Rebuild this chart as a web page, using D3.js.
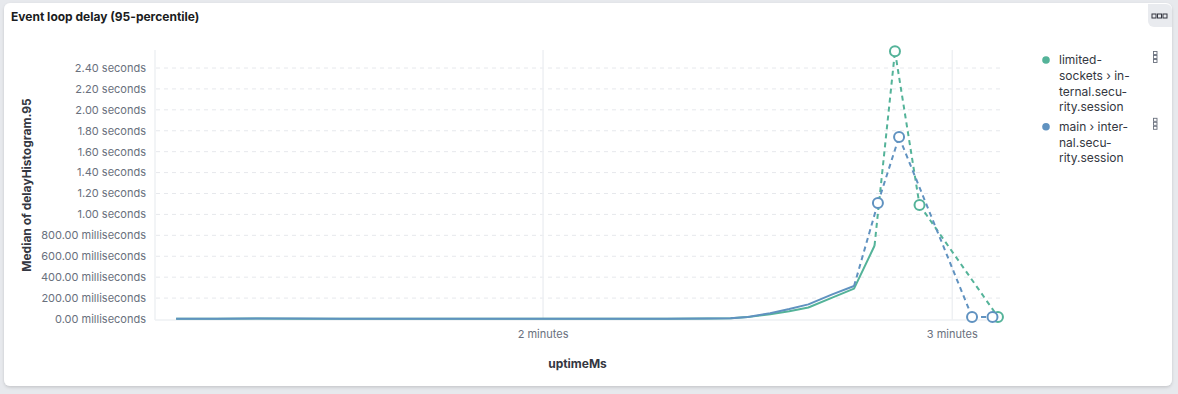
<!DOCTYPE html>
<html>
<head>
<meta charset="utf-8">
<script src="https://cdn.jsdelivr.net/npm/d3@7"></script>
<style>
  body { margin: 0; background: #e7e9ed; font-family: Inter, "Noto Sans", sans-serif; }
</style>
</head>
<body>
<div id="chart"></div>
<script>
// Datos (uptimeMs en ms, retardo en segundos; null = hueco entre cubos)
const flatTimes = [66200, 72200, 78200, 84200, 90200, 96200, 102200, 108200, 114200,
  120200, 126200, 132200, 138200, 144200];
const flatGreen = [0.003, 0.003, 0.004, 0.003, 0.003, 0.003, 0.003, 0.003, 0.003,
  0.003, 0.003, 0.003, 0.003, 0.004];
const flatBlue = [0.003, 0.003, 0.004, 0.004, 0.003, 0.003, 0.003, 0.003, 0.003,
  0.003, 0.003, 0.003, 0.003, 0.004];

const greenTailTimes = [147500, 150000, 153300, 156100, 158900, 162400, 165600, 168600, 170100, 171600, 173400, 175200, 181000, 186700];
const greenTailValues = [0.007, 0.018, 0.045, 0.075, 0.11, 0.205, 0.29, 0.70, null, 2.56, null, 1.09, null, 0.02];

const blueTailTimes = [147500, 150000, 153300, 156100, 158900, 162400, 165600, 167400, 169100, 170600, 172200, 177500, 182900, 184400, 185900];
const blueTailValues = [0.007, 0.02, 0.055, 0.095, 0.14, 0.235, 0.315, null, 1.11, null, 1.74, null, 0.02, null, 0.02];

const seriesNames = ["limited-sockets › internal.security.session", "main › internal.security.session"];
const legendLines = [
  ["limited-", "sockets › in-", "ternal.secu-", "rity.session"],
  ["main › inter-", "nal.secu-", "rity.session"]
];
const colors = ["#54B399", "#6092C0"];

const yTicks = [0, 0.2, 0.4, 0.6, 0.8, 1.0, 1.2, 1.4, 1.6, 1.8, 2.0, 2.2, 2.4];
const xTicks = [120000, 180000];
const xTickLabels = ["2 minutes", "3 minutes"];

const width = 1178, height = 394;
const plot = { left: 155, right: 1000, top: 50, bottom: 320 };

const svg = d3.select("#chart").append("svg")
  .attr("width", width).attr("height", height);

// Panel con sombra
const defs = svg.append("defs");
const f = defs.append("filter").attr("id", "sh").attr("x", "-5%").attr("y", "-5%").attr("width", "110%").attr("height", "120%");
f.append("feDropShadow").attr("dx", 0).attr("dy", 1.5).attr("stdDeviation", 1.5).attr("flood-color", "#000").attr("flood-opacity", 0.15);

svg.append("rect").attr("x", 4).attr("y", 3).attr("width", 1168).attr("height", 383)
  .attr("rx", 6).attr("fill", "#fff").attr("filter", "url(#sh)");

// Título
svg.append("text").attr("x", 11).attr("y", 21)
  .attr("font-size", 12).attr("font-weight", 700).attr("fill", "#1a1c21")
  .text("Event loop delay (95-percentile)");

// Botón de opciones arriba a la derecha
svg.append("path")
  .attr("d", "M1148,4 H1166 a6,6 0 0 1 6,6 V27 H1154 a6,6 0 0 1 -6,-6 Z")
  .attr("fill", "#e9ebef");
[1154, 1159.5, 1165].forEach(x => {
  svg.append("rect").attr("x", x - 2).attr("y", 14).attr("width", 4).attr("height", 4)
    .attr("fill", "none").attr("stroke", "#343741").attr("stroke-width", 1);
});

// Escalas
const x = d3.scaleLinear().domain([63100, 187000]).range([plot.left, plot.right]);
const y = d3.scaleLinear().domain([0, 2.4]).range([319, 68]);

const fmt = v => v < 1 ? (v * 1000).toFixed(2) + " milliseconds" : v.toFixed(2) + " seconds";

// Rejilla horizontal
svg.append("g").selectAll("line").data(yTicks.filter(d => d > 0)).join("line")
  .attr("x1", plot.left + 1).attr("x2", plot.right)
  .attr("y1", d => y(d)).attr("y2", d => y(d))
  .attr("stroke", "#e6e8ec").attr("stroke-dasharray", "4,4");

// Rejilla vertical
svg.append("g").selectAll("line").data(xTicks).join("line")
  .attr("x1", d => x(d)).attr("x2", d => x(d))
  .attr("y1", plot.top).attr("y2", plot.bottom)
  .attr("stroke", "#eef0f3").attr("stroke-width", 1.5);

// Ejes (líneas)
svg.append("line").attr("x1", plot.left).attr("x2", plot.left)
  .attr("y1", plot.top).attr("y2", plot.bottom)
  .attr("stroke", "#eef0f3").attr("stroke-width", 1.5);
svg.append("line").attr("x1", plot.left).attr("x2", plot.right)
  .attr("y1", plot.bottom).attr("y2", plot.bottom)
  .attr("stroke", "#eef0f3").attr("stroke-width", 1.5);

// Etiquetas del eje Y
svg.append("g").selectAll("text").data(yTicks).join("text")
  .attr("x", 146).attr("y", d => y(d)).attr("dy", "0.35em")
  .attr("text-anchor", "end").attr("font-size", 11).attr("fill", "#69707d")
  .text(fmt);

// Etiquetas del eje X
svg.append("g").selectAll("text").data(xTicks).join("text")
  .attr("x", d => x(d)).attr("y", 334).attr("dy", "0.35em")
  .attr("text-anchor", "middle").attr("font-size", 11).attr("fill", "#69707d")
  .text((d, i) => xTickLabels[i]);

// Títulos de ejes
svg.append("text")
  .attr("transform", `translate(31,${(plot.top + plot.bottom) / 2}) rotate(-90)`)
  .attr("text-anchor", "middle").attr("font-size", 12).attr("font-weight", 700).attr("fill", "#343741")
  .text("Median of delayHistogram.95");
svg.append("text").attr("x", (plot.left + plot.right) / 2).attr("y", 368)
  .attr("text-anchor", "middle").attr("font-size", 12).attr("font-weight", 700).attr("fill", "#343741")
  .text("uptimeMs");

// Series
const greenData = flatTimes.map((t, i) => ({ t, v: flatGreen[i] }))
  .concat(greenTailTimes.map((t, i) => ({ t, v: greenTailValues[i] })));
const blueData = flatTimes.map((t, i) => ({ t, v: flatBlue[i] }))
  .concat(blueTailTimes.map((t, i) => ({ t, v: blueTailValues[i] })));

const solid = d3.line().defined(d => d.v != null).x(d => x(d.t)).y(d => y(d.v));

function drawSeries(data, color) {
  const g = svg.append("g");
  // Líneas discontinuas sobre los huecos
  for (let i = 0; i < data.length; i++) {
    if (data[i].v == null) {
      const a = data[i - 1], b = data[i + 1];
      g.append("line")
        .attr("x1", x(a.t)).attr("y1", y(a.v)).attr("x2", x(b.t)).attr("y2", y(b.v))
        .attr("stroke", color).attr("stroke-width", 2).attr("stroke-dasharray", "5,4");
    }
  }
  g.append("path").datum(data).attr("d", solid)
    .attr("fill", "none").attr("stroke", color).attr("stroke-width", 2)
    .attr("stroke-linejoin", "round");
  // Puntos aislados
  const iso = data.filter((d, i) => d.v != null &&
    (i === 0 || data[i - 1].v == null) && (i === data.length - 1 || data[i + 1].v == null));
  g.selectAll("circle").data(iso).join("circle")
    .attr("cx", d => x(d.t)).attr("cy", d => y(d.v)).attr("r", 5)
    .attr("fill", "#fff").attr("stroke", color).attr("stroke-width", 2);
}

drawSeries(greenData, colors[0]);
drawSeries(blueData, colors[1]);

// Leyenda
let ly = 60;
legendLines.forEach((lines, k) => {
  svg.append("circle").attr("cx", 1046).attr("cy", ly).attr("r", 3.8).attr("fill", colors[k]);
  const t = svg.append("text").attr("font-size", 12).attr("fill", "#343741")
    .attr("aria-label", seriesNames[k]);
  lines.forEach((s, j) => {
    t.append("tspan").attr("x", 1059).attr("y", ly + j * 15.7).attr("dy", "0.35em").text(s);
  });
  [-4, 0, 4].forEach(o => {
    svg.append("rect").attr("x", 1153.5).attr("y", ly - 3 + o - 1.5).attr("width", 3.5).attr("height", 3)
      .attr("fill", "none").attr("stroke", "#69707d").attr("stroke-width", 0.9);
  });
  ly += lines.length * 15.7 + 4;
});
</script>
</body>
</html>
